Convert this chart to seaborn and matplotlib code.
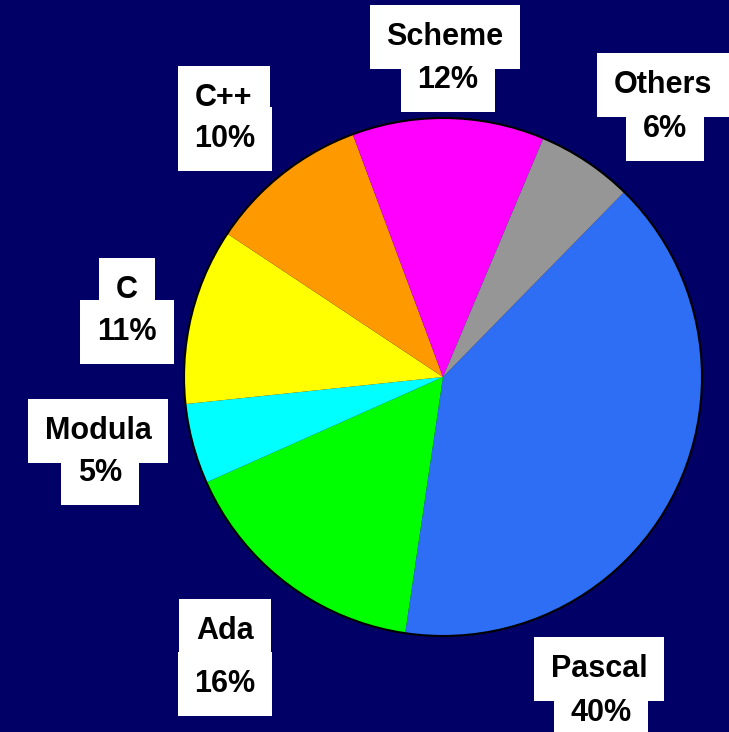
import seaborn as sns
import matplotlib.pyplot as plt

# data
languages = ['Pascal', 'Ada', 'Modula', 'C', 'C++', 'Scheme', 'Others']
shares = [40, 16, 5, 11, 10, 12, 6]
colors = ['#2E6EF5', '#00FF00', '#00FFFF', '#FFFF00', '#FF9900', '#FF00FF', '#969696']

# label centres (pixel coords from top-left): name line, percent line
name_pos = [(599, 666), (225, 628), (98, 428), (127, 287), (224, 95), (445, 34), (663, 82)]
pct_pos = [(601, 710), (225, 681), (100, 470), (127, 329), (225, 136), (448, 77), (665, 126)]

W, H = 729, 732
bg = '#000066'

sns.set_theme(style='white')
plt.rcParams['font.family'] = ['Liberation Sans', 'DejaVu Sans']

fig = plt.figure(figsize=(W / 100, H / 100), dpi=100, facecolor=bg)
ax = fig.add_axes([0, 0, 1, 1])
ax.set_facecolor(bg)

wedges, _ = ax.pie(shares, colors=colors, startangle=45.6, counterclock=False,
                   center=(443, H - 377), radius=259,
                   wedgeprops=dict(linewidth=0))
outline = plt.Circle((443, H - 377), 259, fill=False, edgecolor='black', linewidth=1.5)
ax.add_patch(outline)
ax.set_xlim(0, W)
ax.set_ylim(0, H)
ax.set_aspect('equal')
ax.axis('off')

# cap centre -> baseline offset is about half the cap height
base = 11
box = dict(facecolor='white', edgecolor='none', boxstyle='square,pad=0.55')
style = dict(ha='center', va='baseline', fontsize=22, fontweight='bold')

# white boxes first, then the text on top so boxes don't hide each other's text
for lang, share, (nx, ny), (px, py) in zip(languages, shares, name_pos, pct_pos):
    ax.text(px, H - py - base, f'{share}%', color='none', bbox=box, zorder=5, **style)
    ax.text(nx, H - ny - base, lang, color='none', bbox=box, zorder=5, **style)
for lang, share, (nx, ny), (px, py) in zip(languages, shares, name_pos, pct_pos):
    ax.text(px, H - py - base, f'{share}%', color='black', zorder=6, **style)
    ax.text(nx, H - ny - base, lang, color='black', zorder=6, **style)

fig.savefig('out.png', dpi=100, facecolor=bg)
